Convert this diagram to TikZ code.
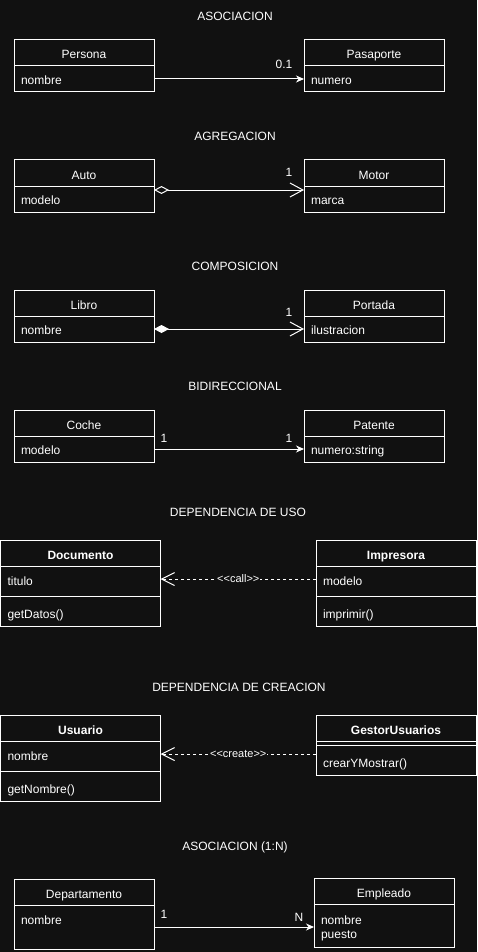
\documentclass[tikz,border=0pt]{standalone}
\usepackage{fontspec}
\setmainfont{Liberation Sans}
\usetikzlibrary{arrows.meta, positioning}
\definecolor{fondo}{HTML}{111111}

\begin{document}
\begin{tikzpicture}
  [
    x=1pt, y=-1pt,
    every node/.style={text=white, font=\fontsize{12}{14}\selectfont},
    cabecera/.style={draw=white, line width=1pt, minimum width=140pt,
      minimum height=26pt, inner sep=0pt, outer sep=0pt, anchor=north west,
      text height=12pt, text depth=0pt},
    ancha/.style={minimum width=160pt},
    negrita/.style={font=\fontsize{12}{14}\selectfont\bfseries},
    campo/.style={draw=white, line width=1pt, minimum height=26pt, outer sep=0pt,
      text width=126pt, inner xsep=7pt, inner ysep=0pt, align=left,
      text height=10.5pt, text depth=0pt},
    lista/.style={campo, text height=, text depth=},
    campoancho/.style={campo, text width=146pt, minimum height=30pt,
      text height=8pt},
    metodo/.style={campoancho, text height=15pt},
    etiqueta/.style={font=\fontsize{11}{13}\selectfont, fill=fondo, inner sep=1pt},
    conector/.style={draw=white, line width=1pt},
    asoc/.style={conector, -{Stealth[length=8pt,width=7pt,inset=2.5pt]}},
    agreg/.style={conector, {Diamond[open,length=15pt,width=8pt]}-{Straight Barb[length=13pt,width=14pt]}},
    compos/.style={conector, {Diamond[length=15pt,width=8pt]}-{Straight Barb[length=13pt,width=14pt]}},
    depend/.style={conector, dash pattern=on 3pt off 3pt, -{Straight Barb[length=13pt,width=13pt]}}
  ]
  \useasboundingbox[fill=fondo] (0,0) rectangle (477,952);

  % asociacion
  \node (tAsoc) at (235,16) {ASOCIACION};
  \node[cabecera] (personaHead) at (14,40) {Persona};
  \node[campo, below=0pt of personaHead] (personaAttr) {nombre};
  \node[cabecera] (pasaporteHead) at (304,40) {Pasaporte};
  \node[campo, below=0pt of pasaporteHead] (pasaporteAttr) {numero};
  \draw[asoc] (personaAttr) -- (pasaporteAttr);
  \node (mPasaporte) at (284,64) {0.1};

  % agregacion
  \node (tAgreg) at (235,136) {AGREGACION};
  \node[cabecera] (autoHead) at (14,160) {Auto};
  \node[campo, below=0pt of autoHead] (autoAttr) {modelo};
  \node[cabecera] (motorHead) at (304,160) {Motor};
  \node[campo, below=0pt of motorHead] (motorAttr) {marca};
  \draw[agreg] ([yshift=-4pt]autoAttr.north east) -- ([yshift=-4pt]motorAttr.north west);
  \node (mMotor) at (289,172) {1};

  % composicion
  \node (tCompos) at (235,266) {COMPOSICION};
  \node[cabecera] (libroHead) at (14,290) {Libro};
  \node[campo, below=0pt of libroHead] (libroAttr) {nombre};
  \node[cabecera] (portadaHead) at (304,290) {Portada};
  \node[campo, below=0pt of portadaHead] (portadaAttr) {ilustracion};
  \draw[compos] (libroAttr) -- (portadaAttr);
  \node (mPortada) at (289,312) {1};

  % bidireccional
  \node (tBidir) at (235,386) {BIDIRECCIONAL};
  \node[cabecera] (cocheHead) at (14,410) {Coche};
  \node[campo, below=0pt of cocheHead] (cocheAttr) {modelo};
  \node[cabecera] (patenteHead) at (304,410) {Patente};
  \node[campo, below=0pt of patenteHead] (patenteAttr) {numero:string};
  \draw[asoc] (cocheAttr) -- (patenteAttr);
  \node (mCoche) at (164,438) {1};
  \node (mPatente) at (289,438) {1};

  % dependencia de uso
  \node (tUso) at (238,512) {DEPENDENCIA DE USO};
  \node[cabecera, ancha, negrita] (documentoHead) at (0.5,540) {Documento};
  \node[campoancho, below=0pt of documentoHead] (documentoAttr) {titulo};
  \node[metodo, below=0pt of documentoAttr] (documentoMet) {getDatos()};
  \node[cabecera, ancha, negrita] (impresoraHead) at (316,540) {Impresora};
  \node[campoancho, below=0pt of impresoraHead] (impresoraAttr) {modelo};
  \node[metodo, below=0pt of impresoraAttr] (impresoraMet) {imprimir()};
  \draw[depend] ([yshift=2pt]impresoraAttr.west) -- ([yshift=2pt]documentoAttr.east)
    node[midway, etiqueta] (lCall) {{<}{<}call{>}{>}};

  % dependencia de creacion
  \node (tCrea) at (239,687) {DEPENDENCIA DE CREACION};
  \node[cabecera, ancha, negrita] (usuarioHead) at (0.5,715) {Usuario};
  \node[campoancho, below=0pt of usuarioHead] (usuarioAttr) {nombre};
  \node[metodo, below=0pt of usuarioAttr] (usuarioMet) {getNombre()};
  \node[cabecera, ancha, negrita] (gestorHead) at (316,715) {GestorUsuarios};
  \node[campoancho, minimum height=4pt, text height=0pt, below=0pt of gestorHead] (gestorAttr) {};
  \node[metodo, text height=14pt, below=0pt of gestorAttr] (gestorMet) {crearYMostrar()};
  \coordinate (crearY) at ([yshift=2pt]usuarioAttr.east);
  \draw[depend] (crearY -| gestorMet.west) -- (crearY)
    node[midway, etiqueta] (lCreate) {{<}{<}create{>}{>}};

  % asociacion 1:N
  \node (tUnoN) at (235,847) {ASOCIACION (1:N)};
  \node[cabecera] (deptoHead) at (14,879) {Departamento};
  \node[lista, minimum height=44pt, below=0pt of deptoHead] (deptoAttr) {nombre\\ \mbox{}};
  \node[cabecera] (empleadoHead) at (314,878) {Empleado};
  \node[lista, text depth=10.5pt, minimum height=43pt, below=0pt of empleadoHead] (empleadoAttr) {nombre\\puesto};
  \draw[asoc] (deptoAttr.east) -- (deptoAttr.east -| empleadoAttr.west);
  \node (mDepto) at (164,914) {1};
  \node (mEmpleado) at (299,917) {N};
\end{tikzpicture}
\end{document}
